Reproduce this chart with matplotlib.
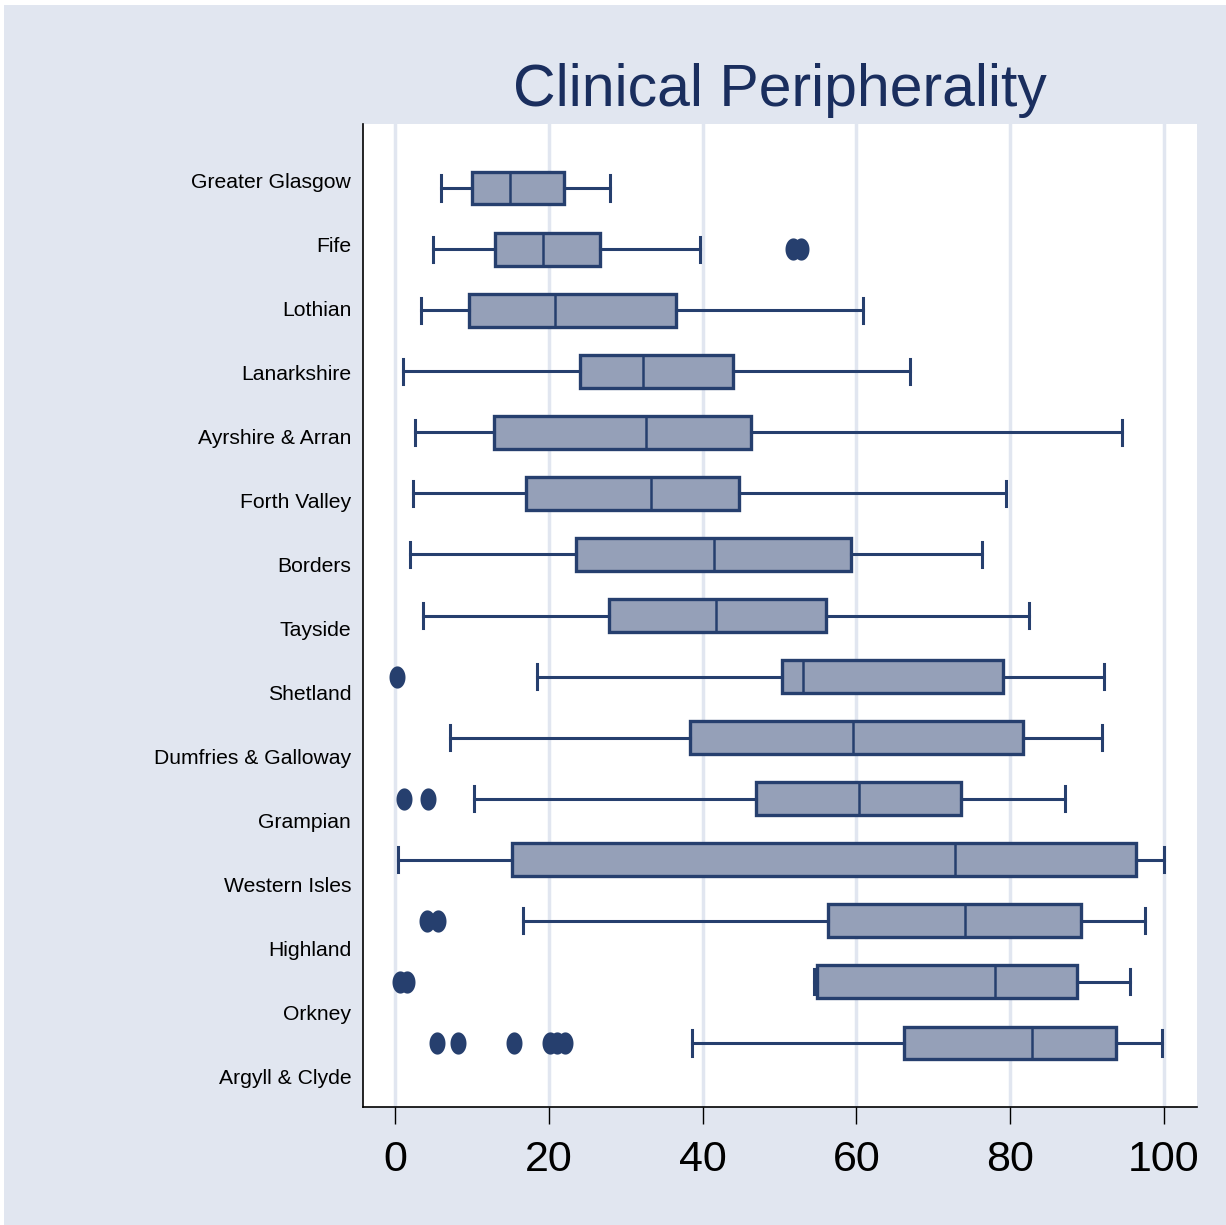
import matplotlib
matplotlib.use("Agg")
import matplotlib.pyplot as plt
from matplotlib.patches import Rectangle
from matplotlib.path import Path
import numpy as np

regions = ["Greater Glasgow", "Fife", "Lothian", "Lanarkshire", "Ayrshire & Arran",
           "Forth Valley", "Borders", "Tayside", "Shetland", "Dumfries & Galloway",
           "Grampian", "Western Isles", "Highland", "Orkney", "Argyll & Clyde"]
whislo = [6.0, 5.0, 3.4, 1.0, 2.6, 2.3, 2.0, 3.7, 18.5, 7.1, 10.3, 0.4, 16.6, 54.5, 38.6]
q1     = [10.0, 13.0, 9.6, 24.1, 12.9, 17.1, 23.6, 27.8, 50.3, 38.4, 47.0, 15.2, 56.3, 54.9, 66.2]
med    = [15.0, 19.2, 20.8, 32.3, 32.7, 33.3, 41.5, 41.7, 53.1, 59.5, 60.4, 72.8, 74.1, 78.0, 82.8]
q3     = [22.0, 26.7, 36.6, 43.9, 46.3, 44.7, 59.3, 56.1, 79.0, 81.6, 73.6, 96.4, 89.2, 88.7, 93.8]
whishi = [28.0, 39.6, 60.9, 67.0, 94.6, 79.5, 76.3, 82.5, 92.2, 92.0, 87.1, 100.0, 97.5, 95.6, 99.7]
outliers = [[], [51.8, 52.8], [], [], [], [], [], [], [0.2], [], [1.2, 4.3], [],
            [4.2, 5.6], [0.6, 1.6], [5.5, 8.2, 15.5, 20.1, 21.1, 22.1]]
xticks = [0, 20, 40, 60, 80, 100]
title = "Clinical Peripherality"

navy = "#263F6E"
fill = "#95A0B8"
bg = "#E1E6F0"
grid = "#E1E6F0"

W, H = 1226, 1225
fig = plt.figure(figsize=(W / 100, H / 100), dpi=100)
fig.patch.set_facecolor("white")
fig.patches.append(Rectangle((4 / W, 0), 1 - 4 / W, (H - 5) / H,
                             transform=fig.transFigure, facecolor=bg,
                             edgecolor="none", zorder=-10))

ax = fig.add_axes([363 / W, 118 / H, (1197 - 363) / W, (1107 - 124) / H])
ax.set_facecolor("white")

stats = []
for i, r in enumerate(regions):
    stats.append(dict(label=r, whislo=whislo[i], q1=q1[i], med=med[i],
                      q3=q3[i], whishi=whishi[i], fliers=outliers[i]))

# ellipse marker (taller than wide)
t = np.linspace(0, 2 * np.pi, 60)
ell = Path(np.column_stack([0.72 * np.cos(t), np.sin(t)]), closed=True)

pos = np.arange(len(regions))
ax.bxp(stats, positions=pos, vert=False, widths=0.54, capwidths=0.41,
       patch_artist=True, manage_ticks=False,
       boxprops=dict(facecolor=fill, edgecolor=navy, linewidth=2.4),
       medianprops=dict(color=navy, linewidth=1.8),
       whiskerprops=dict(color=navy, linewidth=2.2),
       capprops=dict(color=navy, linewidth=2.2),
       flierprops=dict(marker=ell, markersize=16, markerfacecolor=navy,
                       markeredgecolor=navy, markeredgewidth=0, linestyle="none"))

ax.set_xlim((363 - 395) / 7.69, (1197 - 395) / 7.69)
sp = (1043 - 188) / 14
ax.set_ylim((1107 - 188) / sp, (124 - 188) / sp)

# labels sit on their own slightly wider spacing (as in the original)
lab_pos = [(181 + 64 * i - 188) / sp for i in range(len(regions))]
ax.set_yticks(lab_pos)
ax.set_yticklabels(regions, fontsize=15.2, family="Liberation Sans", color="black")
ax.tick_params(axis="y", length=0, pad=8.5)

ax.set_xticks(xticks)
ax.set_xticklabels([str(v) for v in xticks], fontsize=31, family="Liberation Sans")
ax.tick_params(axis="x", length=12.5, width=1, pad=11, color="black")
ax.xaxis.grid(True, color=grid, linewidth=2.5, zorder=0)
ax.set_axisbelow(True)

for s in ["top", "right"]:
    ax.spines[s].set_visible(False)
for s in ["left", "bottom"]:
    ax.spines[s].set_color("black")
    ax.spines[s].set_linewidth(1.2)

fig.text(780 / W, (H - 106) / H, title, ha="center", va="baseline",
         fontsize=42.4, color="#1A2E5E", family="Liberation Sans")

fig.savefig("out.png", dpi=100, facecolor=fig.get_facecolor())
